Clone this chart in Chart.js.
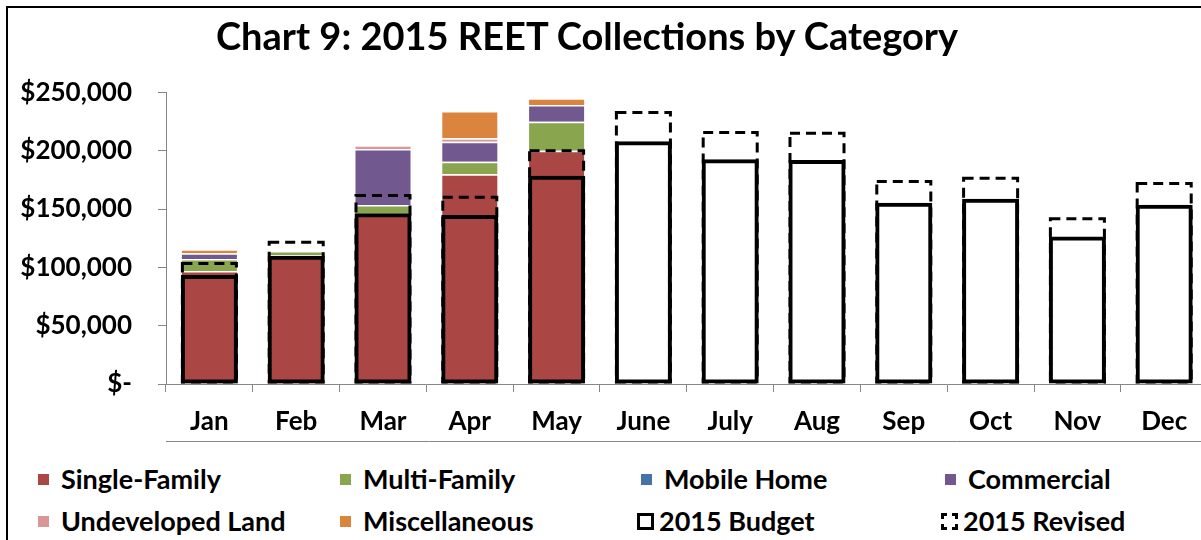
<!DOCTYPE html>
<html>
<head>
<meta charset="utf-8">
<title>Chart 9: 2015 REET Collections by Category</title>
<script src="https://cdn.jsdelivr.net/npm/chart.js@4.4.1/dist/chart.umd.min.js"></script>
<style>
  html, body { margin: 0; padding: 0; background: #fff; overflow: hidden; width: 1201px; height: 540px; }
  #frame { position: absolute; left: 6px; top: 6px; width: 1300px; height: 700px; border: 2px solid #000; }
  #chart { position: absolute; left: 0; top: 0; }
  #title { position: absolute; left: 587px; top: 12px; transform: translateX(-50%); white-space: nowrap;
           font: bold 38px Lato, sans-serif; line-height: 46px; color: #000; }
  .legend-item { position: absolute; display: flex; align-items: center; font: bold 27px Lato, sans-serif;
                 line-height: 32px; color: #000; white-space: nowrap; }
  .legend-box { display: inline-block; width: 11px; height: 11px; margin-right: 12px; }
  .legend-outline { width: 11px; height: 11px; border: 3px solid #000; margin-right: 5px; margin-left: -4px; }
  .legend-dashed { border-style: dashed; }
</style>
</head>
<body>
<div id="frame"></div>
<canvas id="chart" width="1220" height="442"></canvas>
<div id="title">Chart 9: 2015 REET Collections by Category</div>
<div id="legend"></div>
<script>
// dados
const months = ["Jan", "Feb", "Mar", "Apr", "May", "June", "July", "Aug", "Sep", "Oct", "Nov", "Dec"];
const singleFamily = [96900, 110400, 146000, 179800, 200100, null, null, null, null, null, null, null];
const multiFamily = [10300, 3700, 7500, 10900, 24900, null, null, null, null, null, null, null];
const mobileHome = [0, 0, 0, 0, 0, null, null, null, null, null, null, null];
const commercial = [4900, 0, 48000, 17100, 14300, null, null, null, null, null, null, null];
const undevelopedLand = [0, 0, 3200, 2900, 0, null, null, null, null, null, null, null];
const miscellaneous = [3400, 0, 0, 23400, 5700, null, null, null, null, null, null, null];
const budget2015 = [93500, 110000, 146400, 145000, 178600, 208100, 192700, 192100, 155500, 158900, 126500, 153800];
const revised2015 = [104600, 122900, 163000, 161500, 201300, 234100, 217000, 216400, 175000, 177800, 143000, 173200];
const yTicks = [0, 50000, 100000, 150000, 200000, 250000];

const categoryNames = ["Single-Family", "Multi-Family", "Mobile Home", "Commercial", "Undeveloped Land", "Miscellaneous"];
const categoryColors = ["#AA4643", "#89A54E", "#4572A7", "#71588F", "#D99694", "#DB843D"];
const categoryData = [singleFamily, multiFamily, mobileHome, commercial, undevelopedLand, miscellaneous];

const AXIS_GRAY = "#868686";

const datasets = categoryData.map((values, i) => ({
  label: categoryNames[i],
  data: values,
  backgroundColor: categoryColors[i],
  borderColor: "#fff",
  borderWidth: { top: 1.5, bottom: 0, left: 1, right: 1 },
  borderSkipped: false,
  stack: "actual",
  order: 2,
}));

datasets.push({
  label: "2015 Budget",
  data: budget2015,
  backgroundColor: "rgba(0,0,0,0)",
  borderColor: "#000",
  borderWidth: 4,
  borderSkipped: false,
  stack: "budget",
  order: 0,
});

datasets.push({
  label: "2015 Revised",
  data: revised2015,
  backgroundColor: "rgba(0,0,0,0)",
  borderWidth: 0,
  stack: "revised",
  order: 1,
});
const revisedIndex = datasets.length - 1;

// barras tracejadas (Chart.js não faz borderDash em barras)
const dashedRevised = {
  id: "dashedRevised",
  afterDatasetsDraw(chart) {
    const ctx = chart.ctx;
    const meta = chart.getDatasetMeta(revisedIndex);
    ctx.save();
    ctx.strokeStyle = "#000";
    ctx.lineWidth = 3;
    ctx.setLineDash([10, 6]);
    meta.data.forEach((bar) => {
      const { x, y, base, width } = bar.getProps(["x", "y", "base", "width"], true);
      ctx.strokeRect(x - width / 2 + 1.5, y + 1.5, width - 3, base - y - 3);
    });
    ctx.restore();
  },
};

// linha cinza abaixo dos rótulos do eixo x
const axisBottomLine = {
  id: "axisBottomLine",
  afterDraw(chart) {
    const x = chart.scales.x;
    const ctx = chart.ctx;
    ctx.save();
    ctx.strokeStyle = AXIS_GRAY;
    ctx.lineWidth = 1;
    ctx.beginPath();
    ctx.moveTo(x.left, x.bottom - 0.5);
    ctx.lineTo(chart.width, x.bottom - 0.5);
    ctx.stroke();
    ctx.restore();
  },
};

const tickFont = { family: "Lato", size: 26, weight: "bold" };

new Chart(document.getElementById("chart"), {
  type: "bar",
  data: { labels: months, datasets },
  options: {
    responsive: false,
    animation: false,
    devicePixelRatio: 1,
    layout: { padding: { top: 92.5, right: 12.4, left: 0, bottom: 0 } },
    datasets: { bar: { grouped: false, categoryPercentage: 1, barPercentage: 0.657 } },
    plugins: { legend: { display: false }, title: { display: false }, tooltip: { enabled: false } },
    scales: {
      x: {
        stacked: true,
        afterFit: (s) => { s.height = 58; },
        grid: { drawOnChartArea: false, offset: true, tickLength: 8, color: AXIS_GRAY },
        border: { color: AXIS_GRAY },
        ticks: { color: "#000", font: tickFont, padding: 14, maxRotation: 0 },
      },
      y: {
        stacked: true,
        min: 0,
        max: 250000,
        afterFit: (s) => { s.width = 166; },
        afterBuildTicks: (s) => { s.ticks = yTicks.map((v) => ({ value: v })); },
        grid: { drawOnChartArea: false, tickLength: 8, color: AXIS_GRAY },
        border: { color: AXIS_GRAY },
        ticks: {
          color: "#000",
          font: tickFont,
          padding: 26,
          callback: (v) => (v === 0 ? "$-" : "$" + v.toLocaleString("en-US")),
        },
      },
    },
  },
  plugins: [dashedRevised, axisBottomLine],
});

// legenda em 4 colunas
const legendNames = [...categoryNames, "2015 Budget", "2015 Revised"];
const legendCols = [38, 340, 641, 945];
const legendRows = [463, 505];
const legend = document.getElementById("legend");
legendNames.forEach((name, i) => {
  const item = document.createElement("div");
  item.className = "legend-item";
  item.style.left = legendCols[i % 4] + "px";
  item.style.top = legendRows[Math.floor(i / 4)] + "px";
  const box = document.createElement("span");
  if (i < categoryColors.length) {
    box.className = "legend-box";
    box.style.background = categoryColors[i];
  } else {
    box.className = "legend-outline" + (name === "2015 Revised" ? " legend-dashed" : "");
  }
  item.appendChild(box);
  item.appendChild(document.createTextNode(name));
  legend.appendChild(item);
});
</script>
</body>
</html>
